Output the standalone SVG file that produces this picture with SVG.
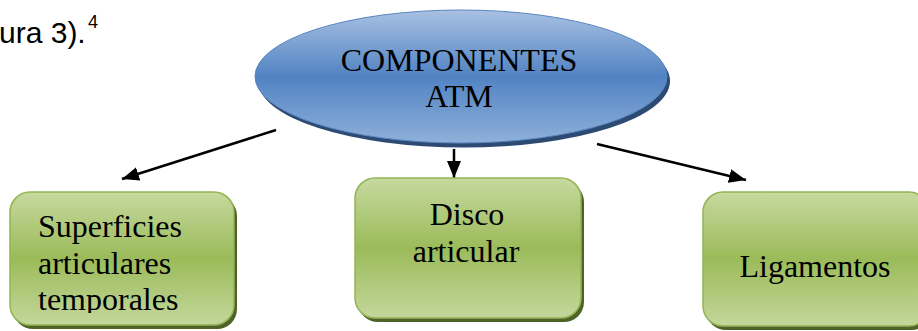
<svg xmlns="http://www.w3.org/2000/svg" width="918" height="331" viewBox="0 0 918 331">
  <defs>
    <linearGradient id="gBlue" x1="0" y1="0" x2="0" y2="1">
      <stop offset="0" stop-color="#a9c1e3"/>
      <stop offset="0.5" stop-color="#5183c2"/>
      <stop offset="1" stop-color="#8fb0da"/>
    </linearGradient>
    <linearGradient id="gGreen" x1="0" y1="0" x2="0" y2="1">
      <stop offset="0" stop-color="#c6d99f"/>
      <stop offset="0.5" stop-color="#9bbb59"/>
      <stop offset="1" stop-color="#c4d79c"/>
    </linearGradient>
    <marker id="arrow" markerUnits="userSpaceOnUse" markerWidth="18" markerHeight="14" refX="17" refY="7" orient="auto">
      <path d="M0,0 L17,7 L0,14 Z" fill="#000"/>
    </marker>
    <clipPath id="clipLeftText">
      <rect x="10" y="192" width="224" height="121"/>
    </clipPath>
  </defs>
  <style>
    .body { font-family: "Liberation Serif", "Times New Roman", serif; font-size: 32px; fill: #000; }
    .lead { font-family: "Liberation Sans", Arial, sans-serif; fill: #000; }
    .box { fill: url(#gGreen); stroke: #93b453; stroke-width: 1.5; }
    .boxShadow { fill: #4f6228; }
    .link { stroke: #000; stroke-width: 2.5; fill: none; marker-end: url(#arrow); }
  </style>

  <!-- running text fragment above the chart -->
  <text class="lead" x="-1" y="43" font-size="30">ura 3).</text>
  <text class="lead" x="88" y="28" font-size="18">4</text>

  <!-- connectors -->
  <g id="connectors">
    <line class="link" x1="276" y1="130" x2="122" y2="179"/>
    <line class="link" x1="454" y1="149" x2="454" y2="178"/>
    <line class="link" x1="597" y1="144" x2="746" y2="180"/>
  </g>

  <!-- root ellipse -->
  <g id="node-componentes">
    <ellipse cx="464" cy="81" rx="206" ry="66.5" fill="#2c4a72"/>
    <ellipse cx="461" cy="76.5" rx="206" ry="66.5" fill="url(#gBlue)" stroke="#5a86c0" stroke-width="1"/>
    <text class="body" x="459" y="71" text-anchor="middle">COMPONENTES</text>
    <text class="body" x="459" y="107" text-anchor="middle">ATM</text>
  </g>

  <!-- left box -->
  <g id="node-superficies">
    <rect class="boxShadow" x="13" y="196" width="224" height="133" rx="20"/>
    <rect class="box" x="10" y="192" width="224" height="133" rx="20"/>
    <g clip-path="url(#clipLeftText)">
      <text class="body" x="38" y="237">Superficies</text>
      <text class="body" x="38" y="273.5">articulares</text>
      <text class="body" x="38" y="310">temporales</text>
    </g>
  </g>

  <!-- middle box -->
  <g id="node-disco">
    <rect class="boxShadow" x="358" y="182" width="226" height="140" rx="20"/>
    <rect class="box" x="355" y="178" width="226" height="140" rx="20"/>
    <text class="body" x="467" y="225" text-anchor="middle">Disco</text>
    <text class="body" x="466" y="262" text-anchor="middle">articular</text>
  </g>

  <!-- right box -->
  <g id="node-ligamentos">
    <rect class="boxShadow" x="706" y="196" width="226" height="134" rx="20"/>
    <rect class="box" x="703" y="192" width="226" height="134" rx="20"/>
    <text class="body" x="815" y="277" text-anchor="middle">Ligamentos</text>
  </g>
</svg>
